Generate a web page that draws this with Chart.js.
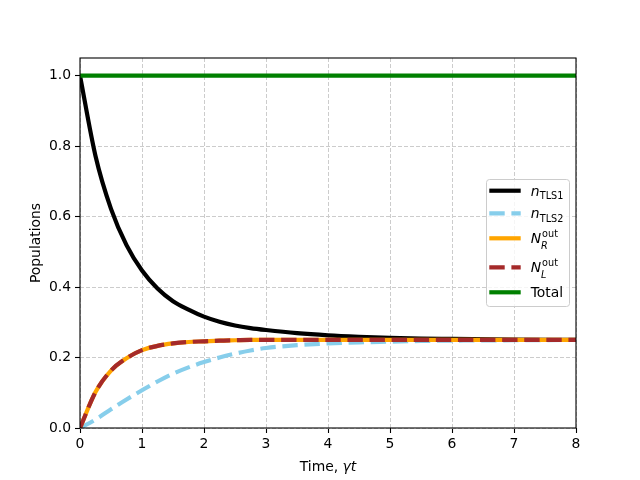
<!DOCTYPE html>
<html>
<head>
<meta charset="utf-8">
<script src="https://cdn.jsdelivr.net/npm/chart.js@4"></script>
<style>
  body { margin: 0; background: #fff; }
  #wrap { width: 640px; height: 480px; }
</style>
</head>
<body>
<div id="wrap"><canvas id="chart" width="640" height="480"></canvas></div>
<script>
// populations vs time
const times  = [0, 0.25, 0.5, 0.75, 1.0, 1.25, 1.5, 1.75, 2.0, 2.25, 2.5, 2.75, 3.0, 3.5, 4.0, 4.5, 5.0, 5.5, 6.0, 7.0, 8.0];
const nTLS1  = [1.0, 0.772, 0.622, 0.519, 0.447, 0.396, 0.360, 0.336, 0.316, 0.3015, 0.291, 0.2835, 0.278, 0.269, 0.263, 0.259, 0.256, 0.254, 0.253, 0.251, 0.250];
const nTLS2  = [0, 0.024, 0.053, 0.081, 0.107, 0.132, 0.154, 0.172, 0.187, 0.200, 0.211, 0.220, 0.227, 0.235, 0.240, 0.243, 0.245, 0.247, 0.248, 0.249, 0.250];
const nROut  = [0, 0.102, 0.163, 0.198, 0.221, 0.233, 0.240, 0.244, 0.246, 0.248, 0.249, 0.250, 0.250, 0.250, 0.250, 0.250, 0.250, 0.250, 0.250, 0.250, 0.250];
const nLOut  = [0, 0.102, 0.163, 0.198, 0.221, 0.233, 0.240, 0.244, 0.246, 0.248, 0.249, 0.250, 0.250, 0.250, 0.250, 0.250, 0.250, 0.250, 0.250, 0.250, 0.250];
const total  = [1, 1, 1, 1, 1, 1, 1, 1, 1, 1, 1, 1, 1, 1, 1, 1, 1, 1, 1, 1, 1];
const xTicks = [0, 1, 2, 3, 4, 5, 6, 7, 8];
const yTicks = [0, 0.2, 0.4, 0.6, 0.8, 1.0];

const FONT = 'DejaVu Sans, sans-serif';
const LW = 4.2;
const DASH = [15.4, 6.7];

const pts = ys => times.map((t, i) => ({ x: t, y: ys[i] }));

// legend rows: main symbol (italic), sub/sup parts
const legendRows = [
  { color: '#000000', dash: [],   main: 'n', sub: 'TLS1' },
  { color: '#87ceeb', dash: DASH, main: 'n', sub: 'TLS2' },
  { color: '#ffa500', dash: [],   main: 'N', sub: 'R', sup: 'out' },
  { color: '#a52a2a', dash: DASH, main: 'N', sub: 'L', sup: 'out' },
  { color: '#008000', dash: [],   plain: 'Total' },
];

const decorPlugin = {
  id: 'decor',
  afterDatasetsDraw(chart) {
    const { ctx, chartArea: a } = chart;
    ctx.save();
    // frame
    ctx.strokeStyle = '#000';
    ctx.lineWidth = 1.1;
    ctx.strokeRect(a.left, a.top, a.right - a.left, a.bottom - a.top);

    // legend box
    const bx = 486, by = 179, bw = 83, bh = 127, r = 3;
    ctx.beginPath();
    ctx.roundRect(bx + 0.5, by + 0.5, bw, bh, r);
    ctx.fillStyle = 'rgba(255,255,255,0.8)';
    ctx.fill();
    ctx.strokeStyle = '#cccccc';
    ctx.lineWidth = 1;
    ctx.stroke();

    const rowsY = [190.7, 213.3, 238.3, 267.3, 292.3];
    legendRows.forEach((row, i) => {
      const y = rowsY[i];
      ctx.beginPath();
      ctx.setLineDash(row.dash);
      ctx.lineCap = 'butt';
      ctx.strokeStyle = row.color;
      ctx.lineWidth = LW;
      ctx.moveTo(489.3, y);
      ctx.lineTo(520.7, y);
      ctx.stroke();
      ctx.setLineDash([]);

      ctx.fillStyle = '#000';
      ctx.textBaseline = 'alphabetic';
      ctx.textAlign = 'left';
      const base = y + 5;
      let x = 530.7;
      if (row.plain) {
        ctx.font = '13.9px ' + FONT;
        ctx.fillText(row.plain, x, base);
        return;
      }
      ctx.font = 'italic 13.9px ' + FONT;
      ctx.fillText(row.main, x, base);
      x += ctx.measureText(row.main).width;
      if (row.sup) {
        ctx.font = '9.7px ' + FONT;
        ctx.fillText(row.sup, x + 1, base - 6.6);
        ctx.font = 'italic 9.7px ' + FONT;
        ctx.fillText(row.sub, x, base + 5.7);
      } else {
        ctx.font = '9.7px ' + FONT;
        ctx.fillText(row.sub, x + 0.3, base + 3.6);
      }
    });

    // axis titles
    ctx.fillStyle = '#000';
    ctx.textBaseline = 'alphabetic';
    const t1 = 'Time, ';
    ctx.font = 'italic 13.9px ' + FONT;
    const w2 = ctx.measureText('γt').width;
    ctx.font = '13.9px ' + FONT;
    const w1 = ctx.measureText(t1).width;
    const cx = (a.left + a.right) / 2;
    const x0 = cx - (w1 + w2) / 2;
    ctx.fillText(t1, x0, 471);
    ctx.font = 'italic 13.9px ' + FONT;
    ctx.fillText('γt', x0 + w1, 471);

    ctx.save();
    ctx.translate(40, (a.top + a.bottom) / 2);
    ctx.rotate(-Math.PI / 2);
    ctx.textAlign = 'center';
    ctx.font = '13.9px ' + FONT;
    ctx.fillText('Populations', 0, 0);
    ctx.restore();

    ctx.restore();
  }
};

const common = { pointRadius: 0, borderWidth: LW, fill: false, clip: 0,
                 cubicInterpolationMode: 'monotone', borderCapStyle: 'butt' };

new Chart(document.getElementById('chart'), {
  type: 'line',
  data: {
    datasets: [
      { ...common, label: 'nTLS1', data: pts(nTLS1), borderColor: '#000000', order: 5 },
      { ...common, label: 'nTLS2', data: pts(nTLS2), borderColor: '#87ceeb', borderDash: DASH, order: 4 },
      { ...common, label: 'NRout', data: pts(nROut), borderColor: '#ffa500', order: 3 },
      { ...common, label: 'NLout', data: pts(nLOut), borderColor: '#a52a2a', borderDash: DASH, order: 2 },
      { ...common, label: 'Total', data: pts(total), borderColor: '#008000', order: 1 },
    ],
  },
  options: {
    responsive: false,
    animation: false,
    events: [],
    layout: { padding: { left: 0, right: 64, top: 58, bottom: 0 } },
    plugins: { legend: { display: false }, tooltip: { enabled: false } },
    scales: {
      x: {
        type: 'linear', min: 0, max: 8,
        afterBuildTicks: s => { s.ticks = xTicks.map(v => ({ value: v })); },
        afterFit: s => { s.height = 52; },
        ticks: { color: '#000', font: { family: FONT, size: 13.9 }, padding: 3, maxRotation: 0,
                 callback: v => String(v) },
        grid: { color: '#cccccc', lineWidth: 1, tickLength: 5, tickColor: '#000', tickWidth: 1.1 },
        border: { display: false, dash: [4, 2] },
      },
      y: {
        type: 'linear', min: 0, max: 1.05,
        afterBuildTicks: s => { s.ticks = yTicks.map(v => ({ value: v })); },
        afterFit: s => { s.width = 80; },
        ticks: { color: '#000', font: { family: FONT, size: 13.9 }, padding: 4,
                 callback: v => v.toFixed(1) },
        grid: { color: '#cccccc', lineWidth: 1, tickLength: 5, tickColor: '#000', tickWidth: 1.1 },
        border: { display: false, dash: [4, 2] },
      },
    },
  },
  plugins: [decorPlugin],
});
</script>
</body>
</html>
